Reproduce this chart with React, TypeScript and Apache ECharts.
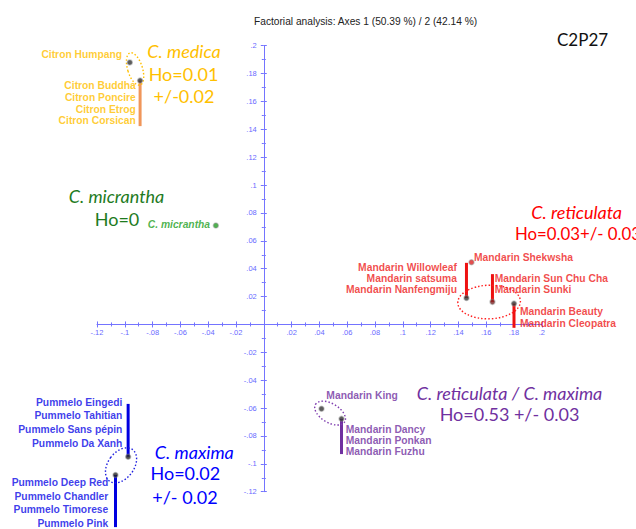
import React, { useEffect, useRef } from "react";
import * as echarts from "echarts";

// ---- data ----
const xMin = -0.12;
const xMax = 0.2;
const yMin = -0.12;
const yMax = 0.2;
const tickStep = 0.02;

const titleText = "Factorial analysis: Axes 1 (50.39 %) / 2 (42.14 %)";
const cornerText = "C2P27";

const pointX = [-0.0964, -0.089, -0.0345, 0.1494, 0.1458, 0.1645, 0.18, 0.0415, 0.0559, -0.0976, -0.1067];
const pointY = [0.188, 0.175, 0.071, 0.0446, 0.019, 0.0162, 0.015, -0.0605, -0.0677, -0.0949, -0.108];
const pointNames = [
  ["Citron Humpang"],
  ["Citron Buddha", "Citron Poncire", "Citron Etrog", "Citron Corsican"],
  ["C. micrantha"],
  ["Mandarin Shekwsha"],
  ["Mandarin Willowleaf", "Mandarin satsuma", "Mandarin Nanfengmiju"],
  ["Mandarin Sun Chu Cha", "Mandarin Sunki"],
  ["Mandarin Beauty", "Mandarin Cleopatra"],
  ["Mandarin King"],
  ["Mandarin Dancy", "Mandarin Ponkan", "Mandarin Fuzhu"],
  ["Pummelo Eingedi", "Pummelo Tahitian", "Pummelo Sans pépin", "Pummelo Da Xanh"],
  ["Pummelo Deep Red", "Pummelo Chandler", "Pummelo Timorese", "Pummelo Pink"],
];
const pointGroup = [0, 0, 1, 2, 2, 2, 2, 3, 3, 4, 4];
// leader line end (y) for points whose names are stacked along a line
const leaderEndY = [null, 0.1423, null, null, 0.0442, 0.0361, -0.0024, null, -0.093, -0.057, -0.1454];

const groupTitles = [
  ["C. medica", "Ho=0.01", "+/-0.02"],
  ["C. micrantha", "Ho=0"],
  ["C. reticulata", "Ho=0.03+/- 0.03"],
  ["C. reticulata / C. maxima", "Ho=0.53 +/- 0.03"],
  ["C. maxima", "Ho=0.02", "+/- 0.02"],
];

// ellipse centres (data coords)
const ellipseX = [-0.0926, 0.1621, 0.0477, -0.1027];
const ellipseY = [0.1833, 0.0161, -0.0636, -0.1011];

// ---- styles ----
const groupTitleColor = ["#FFC000", "#1E7B1E", "#FF0000", "#7030A0", "#0000FF"];
const groupLabelColor = ["#FFC000", "#22A022", "#EE1C1C", "#7030A0", "#0A0AE6"];
const groupLeaderColor = ["#F0965A", "#22A022", "#EE1111", "#7030A0", "#0000E0"];
const ellipseColor = ["#FFC000", "#FF2020", "#8040B0", "#2020E0"];
const ellipseShape = [
  { rx: 7.4, ry: 16.8, rot: 0.3 },
  { rx: 31.3, ry: 16.8, rot: 0.03 },
  { rx: 17, ry: 9.5, rot: -0.54 },
  { rx: 13, ry: 19.5, rot: -0.63 },
];
// label anchor offsets relative to point (px), alignment, line height
const labelSpec = [
  { dx: -7, dy: -7.5, align: "right", va: "middle", lh: 12 },
  { dx: -3.5, dy: 0, align: "right", va: "top", lh: 11.7 },
  { dx: -5, dy: -0.6, align: "right", va: "middle", lh: 12, italic: true },
  { dx: 3.3, dy: -4, align: "left", va: "middle", lh: 12 },
  { dx: -8.7, dy: -35.7, align: "right", va: "top", lh: 11.3 },
  { dx: 3, dy: -27.7, align: "left", va: "top", lh: 10.7 },
  { dx: 6.7, dy: 2.4, align: "left", va: "top", lh: 12 },
  { dx: 5.6, dy: -12.7, align: "left", va: "middle", lh: 12 },
  { dx: 5, dy: 6.3, align: "left", va: "top", lh: 10.7 },
  { dx: -5, dy: -60.9, align: "right", va: "top", lh: 13.9 },
  { dx: -6.4, dy: 2, align: "right", va: "top", lh: 13.5 },
];
const pointColor = ["#333", "#333", "#22A022", "#E02020", "#333", "#7a2020", "#333", "#333", "#333", "#222", "#222"];
// group title layout: [x, y] per line (px)
const titleLayout = [
  { x: [184, 183.5, 184], y: [51, 73.5, 96], align: "center" },
  { x: [116.5, 117], y: [196, 219], align: "center" },
  { x: [576.7, 515], y: [211.7, 233], align: ["center", "left"] },
  { x: [509.5, 509.5], y: [392.7, 414.3], align: "center" },
  { x: [194.3, 185.3, 185], y: [451.7, 473.3, 496.7], align: "center" },
];

const gridLeft = 97;
const gridTop = 45.7;
const gridW = 444.8;
const gridH = 446;

const axisColor = "#7474ff";
const axisLabelColor = "#6a6aff";
const symSize = 5;

function fmt(v: number) {
  if (Math.abs(v) < 1e-9) return "";
  const s = Number(v.toFixed(2)).toString();
  return s.replace("0.", ".");
}

export default function App() {
  const ref = useRef<HTMLDivElement>(null);
  useEffect(() => {
    const chart = echarts.init(ref.current!, null, { renderer: "svg" });

    // place the axes through the origin by offsetting them from the grid edges
    const xAxisOffset = -(gridH * (0 - yMin)) / (yMax - yMin);
    const yAxisOffset = -(gridW * (0 - xMin)) / (xMax - xMin);

    const mkX = (main: boolean) => ({
      type: "value",
      position: "bottom",
      offset: xAxisOffset,
      min: xMin,
      max: xMax,
      interval: tickStep,
      axisLine: { show: main, onZero: false, lineStyle: { color: axisColor, width: 1 } },
      axisTick: { show: true, inside: !main, length: 3, lineStyle: { color: axisColor } },
      minorTick: { show: true, splitNumber: 2, length: 2, lineStyle: { color: axisColor } },
      axisLabel: { show: main, formatter: fmt, color: axisLabelColor, fontSize: 7.5, fontFamily: "Liberation Sans", margin: 4 },
      splitLine: { show: false },
      minorSplitLine: { show: false },
    });
    const mkY = (main: boolean) => ({
      type: "value",
      position: "left",
      offset: yAxisOffset,
      min: yMin,
      max: yMax,
      interval: tickStep,
      axisLine: { show: main, onZero: false, lineStyle: { color: axisColor, width: 1 } },
      axisTick: { show: true, inside: !main, length: 3, lineStyle: { color: axisColor } },
      minorTick: { show: true, splitNumber: 2, length: 2, lineStyle: { color: axisColor } },
      axisLabel: { show: main, formatter: fmt, color: axisLabelColor, fontSize: 7.5, fontFamily: "Liberation Sans", margin: 7 },
      splitLine: { show: false },
      minorSplitLine: { show: false },
    });

    const scatterData = pointX.map((x, i) => {
      const sp: any = labelSpec[i];
      const g = pointGroup[i];
      return {
        value: [x, pointY[i]],
        itemStyle: { color: pointColor[i], borderColor: "rgba(140,140,140,0.55)", borderWidth: 1.5 },
        label: {
          show: true,
          formatter: pointNames[i].join("\n"),
          position: [sp.dx + symSize / 2, sp.dy + symSize / 2],
          align: sp.align,
          verticalAlign: sp.va,
          lineHeight: sp.lh,
          color: groupLabelColor[g],
          fontSize: 10.3,
          fontWeight: "bold",
          fontStyle: sp.italic ? "italic" : "normal",
          fontFamily: "Liberation Sans",
        },
      };
    });

    const leaderSeries: any[] = [];
    pointX.forEach((x, i) => {
      const e = leaderEndY[i];
      if (e === null) return;
      leaderSeries.push({
        type: "line",
        data: [
          [x, pointY[i]],
          [x, e],
        ],
        symbol: "none",
        clip: false,
        silent: true,
        z: 1,
        lineStyle: { color: groupLeaderColor[pointGroup[i]], width: 3 },
      });
    });

    chart.setOption({
      animation: false,
      title: {
        text: titleText,
        left: 249,
        top: 11,
        textStyle: { fontSize: 10.2, fontWeight: "normal", color: "#222", fontFamily: "Liberation Sans" },
      },
      grid: { left: gridLeft, top: gridTop, width: gridW, height: gridH, containLabel: false },
      xAxis: [mkX(true), mkX(false)],
      yAxis: [mkY(true), mkY(false)],
      series: [
        ...leaderSeries,
        {
          type: "scatter",
          data: scatterData,
          symbolSize: symSize,
          clip: false,
          z: 3,
          xAxisIndex: 0,
          yAxisIndex: 0,
        },
      ],
    });

    const graphics: any[] = [];
    groupTitles.forEach((lines, g) => {
      const lay: any = titleLayout[g];
      lines.forEach((t, k) => {
        const italic = k === 0;
        graphics.push({
          type: "text",
          x: lay.x[k],
          y: lay.y[k],
          style: {
            text: t,
            fill: groupTitleColor[g],
            fontSize: g === 2 && k === 1 ? 16.8 : 18,
            fontStyle: italic ? "italic" : "normal",
            fontFamily: "Lato",
            textAlign: Array.isArray(lay.align) ? lay.align[k] : lay.align,
            textVerticalAlign: "middle",
          },
        });
      });
    });
    graphics.push({
      type: "text",
      x: 557,
      y: 39.5,
      style: { text: cornerText, fill: "#111", fontSize: 17, fontFamily: "Lato", textAlign: "left", textVerticalAlign: "middle" },
    });
    ellipseX.forEach((ex, i) => {
      const p = chart.convertToPixel({ xAxisIndex: 0, yAxisIndex: 0 }, [ex, ellipseY[i]]) as number[];
      const s = ellipseShape[i];
      graphics.push({
        type: "ellipse",
        x: p[0],
        y: p[1],
        rotation: s.rot,
        shape: { cx: 0, cy: 0, rx: s.rx, ry: s.ry },
        style: { fill: "none", stroke: ellipseColor[i], lineWidth: 1.4, lineDash: [1.5, 2] },
        z: 2,
      });
    });
    chart.setOption({ graphic: graphics });

    return () => chart.dispose();
  }, []);
  return <div ref={ref} style={{ position: "absolute", left: 0, top: 0, width: 636, height: 529 }} />;
}
